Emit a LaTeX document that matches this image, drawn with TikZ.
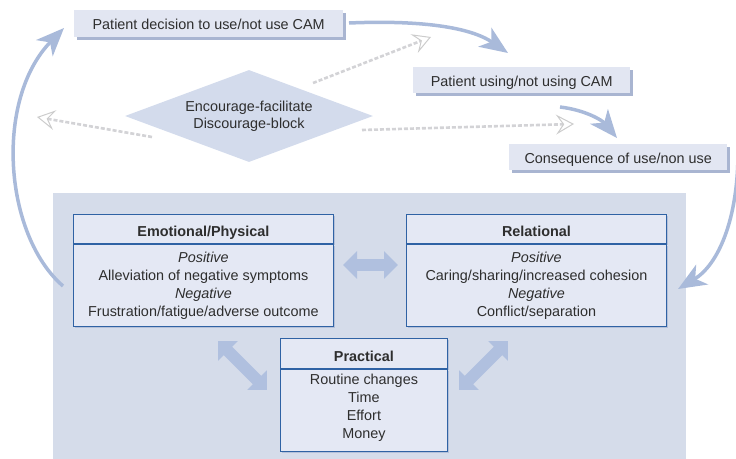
\documentclass[tikz,border=0pt]{standalone}
\usepackage{fontspec}
\setmainfont{Liberation Sans}
\usetikzlibrary{arrows.meta,shapes.geometric,shadows}
\definecolor{panelc}{HTML}{D5DCEA}
\definecolor{boxfill}{HTML}{E4E8F4}
\definecolor{topfill}{HTML}{E2E6F2}
\definecolor{boxline}{HTML}{2F62A4}
\definecolor{shade}{HTML}{A9B5D1}
\definecolor{shadein}{HTML}{B4C0D9}
\definecolor{arrowc}{HTML}{A9BADA}
\definecolor{blockc}{HTML}{B0C0DF}
\definecolor{diamc}{HTML}{D3DBEC}
\definecolor{txt}{HTML}{2E2E2E}
\definecolor{dashc}{HTML}{D3D3D6}
\tikzset{
  topbox/.style={fill=topfill, text=txt, inner sep=0, anchor=north west,
    text height=12.5pt, text depth=0pt,
    drop shadow={shadow xshift=3pt, shadow yshift=-3pt, fill=shade, opacity=1}},
  hdrbox/.style={fill=boxfill, draw=boxline, line width=0.9pt, text=txt, inner sep=0, anchor=north west,
    font=\fontsize{14.4}{18}\selectfont\bfseries, text height=16pt, text depth=0pt,
    drop shadow={shadow xshift=2pt, shadow yshift=-2pt, fill=shadein, opacity=1}},
  bodybox/.style={fill=boxfill, draw=boxline, line width=0.9pt, text=txt, inner sep=0, anchor=north,
    align=center, font=\fontsize{14.4}{18}\selectfont,
    drop shadow={shadow xshift=2pt, shadow yshift=-2pt, fill=shadein, opacity=1}},
  bigarrow/.style={draw=arrowc, line width=3.5pt,
    -{Stealth[length=28pt, width=23pt, inset=8pt, fill=arrowc]}},
  dasharrow/.style={draw=dashc, line width=2.6pt, dash pattern=on 4pt off 2pt,
    -{Stealth[open, length=18pt, width=20pt, inset=7pt, fill=white, line width=1pt, color=gray!40]}},
  blockarrow/.style={draw=blockc, line width=12pt,
    {Triangle[length=14pt, width=27pt, fill=blockc]}-{Triangle[length=14pt, width=27pt, fill=blockc]}}
}
\begin{document}
\begin{tikzpicture}[x=1pt, y=-1pt, font=\fontsize{14.4}{17}\selectfont, text=txt]
\useasboundingbox (0,0) rectangle (736,458);

% background panel
\node[fill=panelc, inner sep=0, anchor=north west, minimum width=633, minimum height=266] (panel) at (53,193) {};

% top boxes
\node[topbox, minimum width=269, minimum height=27] (dec) at (74,10) {Patient decision to use/not use CAM};
\node[topbox, minimum width=217, minimum height=26] (use) at (413,67) {Patient using/not using CAM};
\node[topbox, minimum width=218, minimum height=26] (cons) at (509,144) {Consequence of use/non use};

% diamond
\node[diamond, fill=diamc, shape aspect=2.7, minimum width=248, minimum height=92, inner sep=0, align=center] (dia) at (249,116) {Encourage-facilitate\\Discourage-block};

% dashed arrows
\coordinate (da1) at (313,83);
\coordinate (da1e) at (431,37);
\coordinate (da2) at (152,137);
\coordinate (da2e) at (37,117);
\coordinate (da3) at (362,130);
\coordinate (da3e) at (574,124);
\draw[dasharrow] (da1) -- (da1e);
\draw[dasharrow] (da2) -- (da2e);
\draw[dasharrow] (da3) -- (da3e);

% curved arrows
\coordinate (c1s) at (349,23);
\coordinate (c1e) at (508,53);
\draw[bigarrow] (c1s) .. controls (420,20) and (470,27) .. (c1e);
\coordinate (c2s) at (560,107);
\coordinate (c2e) at (617,138);
\draw[bigarrow] (c2s) .. controls (585,110) and (602,120) .. (c2e);
\coordinate (c3s) at (738,152);
\coordinate (c3e) at (678,289);
\draw[bigarrow] (c3s) .. controls (738,220) and (718,265) .. (c3e);
\coordinate (c4s) at (63,286);
\coordinate (c4e) at (64,28);
\draw[bigarrow] (c4s) .. controls (4,235) and (-6,100) .. (c4e);

% inner boxes
\node[hdrbox, minimum width=260, minimum height=29] (emoh) at (73,214) {Emotional/Physical};
\node[bodybox, minimum width=260, minimum height=82] (emob) at (emoh.south)
  {\textit{Positive}\\Alleviation of negative symptoms\\\textit{Negative}\\Frustration/fatigue/adverse outcome};

\node[hdrbox, minimum width=260, minimum height=29] (relh) at (406,214) {Relational};
\node[bodybox, minimum width=260, minimum height=82] (relb) at (relh.south)
  {\textit{Positive}\\Caring/sharing/increased cohesion\\\textit{Negative}\\Conflict/separation};

\node[hdrbox, minimum width=167, minimum height=30] (prah) at (280,338) {Practical};
\node[bodybox, minimum width=167, minimum height=82] (prab) at (prah.south)
  {Routine changes\\Time\\Effort\\Money\\[-10pt]\mbox{}};

% block double arrows
\coordinate (b1a) at (343,265);
\coordinate (b1b) at (398,265);
\draw[blockarrow] (b1a) -- (b1b);
\coordinate (b2a) at (218,341);
\coordinate (b2b) at (267,390);
\draw[blockarrow] (b2a) -- (b2b);
\coordinate (b3a) at (508,341);
\coordinate (b3b) at (459,390);
\draw[blockarrow] (b3a) -- (b3b);
\end{tikzpicture}
\end{document}
